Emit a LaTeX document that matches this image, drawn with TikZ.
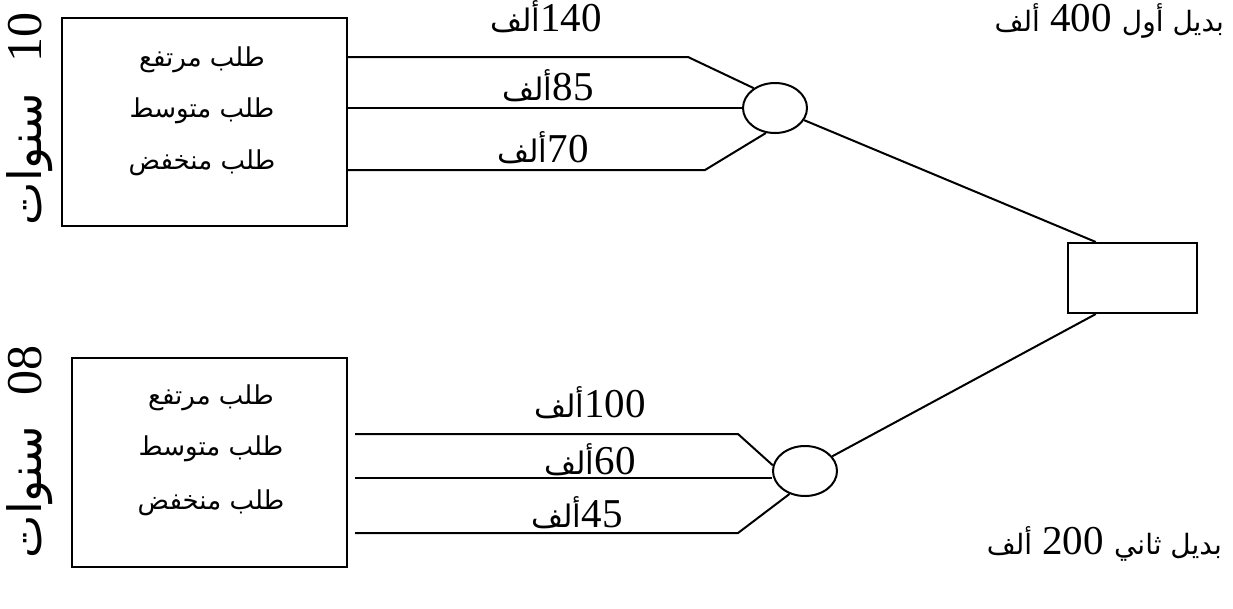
\documentclass[tikz,border=0pt]{standalone}
\usepackage{fontspec}
\setmainfont{Liberation Serif}
\newfontfamily\ar[Script=Arabic]{DejaVu Sans}
\TeXXeTstate=1
\usetikzlibrary{shapes.geometric,calc}

% right-to-left Arabic runs beside the figures
\newcommand{\rl}[1]{{\fontsize{31}{34}\ar\beginR #1\endR}}
\newcommand{\rlsmall}[1]{{\fontsize{28}{32}\ar\beginR #1\endR}}

\begin{document}
\begin{tikzpicture}[x=1pt,y=-1pt,line width=2pt,
  optbox/.style={draw,rectangle,inner sep=0pt},
  chance/.style={draw,ellipse,inner sep=0pt,minimum width=64pt,minimum height=50pt},
  decision/.style={draw,rectangle,inner sep=0pt,minimum width=129pt,minimum height=70pt},
  demand/.style={inner sep=0pt,font=\fontsize{26}{30}\ar},
  val/.style={inner sep=0pt,font=\fontsize{41}{44}\selectfont},
  years/.style={inner sep=0pt,rotate=90,font=\fontsize{50}{54}\selectfont}]
\useasboundingbox (0,0) rectangle (1233,608);

% decision node and the two alternatives
\node[decision] (d) at (1132.5,278) {};
\node[val,anchor=east] (alt1) at (1225,21) {\rlsmall{ألف}\ 400\ \rlsmall{بديل أول}};
\node[val,anchor=east] (alt2) at (1223,544) {\rlsmall{ألف}\ 200\ \rlsmall{بديل ثاني}};

% first alternative: 10 years
\node[optbox,minimum width=285pt,minimum height=208pt] (b1) at (204.5,122) {};
\node[demand] (t11) at (202,60) {\beginR طلب مرتفع\endR};
\node[demand] (t12) at (202,111) {\beginR طلب متوسط\endR};
\node[demand] (t13) at (202,163) {\beginR طلب منخفض\endR};
\node[years] (y1) at (30,119) {{\fontsize{46}{50}\ar\beginR سنوات\endR}\hspace{30pt}10};
\node[chance] (e1) at (775,108) {};

\coordinate (k11) at (688,57);
\coordinate (k13) at (705,170);
\draw (b1.east |- k11) -- (k11) -- (e1.137);
\draw (b1.east |- e1) -- (e1.west);
\draw (b1.east |- k13) -- (k13) -- (e1.250);
\node[val] (v11) at (546,17) {\rl{ألف}140};
\node[val] (v12) at (548,86) {\rl{ألف}85};
\node[val] (v13) at (543,148) {\rl{ألف}70};

% second alternative: 08 years
\node[optbox,minimum width=275pt,minimum height=209pt] (b2) at (209.5,462.5) {};
\node[demand] (t21) at (211,398) {\beginR طلب مرتفع\endR};
\node[demand] (t22) at (211,449) {\beginR طلب متوسط\endR};
\node[demand] (t23) at (211,503) {\beginR طلب منخفض\endR};
\node[years] (y2) at (30,452) {{\fontsize{46}{50}\ar\beginR سنوات\endR}\hspace{30pt}08};
\node[chance] (e2) at (805,471) {};

\coordinate (s21) at (355,434);
\coordinate (s22) at (355,478);
\coordinate (s23) at (355,533);
\coordinate (k21) at (738,434);
\coordinate (k23) at (738,533);
\draw (s21) -- (k21) -- (e2.170);
\draw (s22) -- (e2.west |- s22);
\draw (s23) -- (k23) -- (e2.236);
\node[val] (v21) at (590,403) {\rl{ألف}100};
\node[val] (v22) at (590,460) {\rl{ألف}60};
\node[val] (v23) at (577,513) {\rl{ألف}45};

% branches from the decision node
\coordinate (p1) at ($(d.north west)!0.22!(d.north east)$);
\coordinate (p2) at ($(d.south west)!0.22!(d.south east)$);
\draw (e1) -- (p1);
\draw (e2) -- (p2);
\end{tikzpicture}
\end{document}
